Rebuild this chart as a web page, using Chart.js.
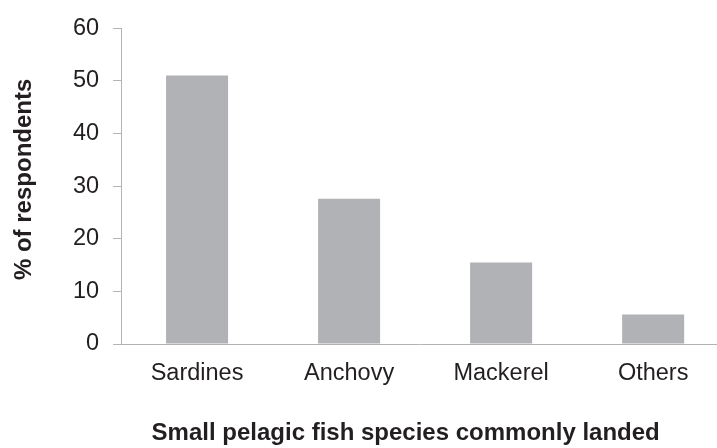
<!DOCTYPE html>
<html>
<head>
<meta charset="utf-8">
<script src="https://cdn.jsdelivr.net/npm/chart.js@4/dist/chart.umd.min.js"></script>
<style>
  html, body { margin: 0; padding: 0; background: #fff; }
  #wrap { width: 717px; height: 448px; }
</style>
</head>
<body>
<div id="wrap"><canvas id="fishChart"></canvas></div>
<script>
const species = ['Sardines', 'Anchovy', 'Mackerel', 'Others'];
const respondents = [51, 27.6, 15.5, 5.6];
const yTicks = [0, 10, 20, 30, 40, 50, 60];

const axisGrey = '#b3b3b3';
const textColor = '#231f20';

const points = species.map((s, i) => ({ x: i, y: respondents[i] }));

new Chart(document.getElementById('fishChart'), {
  type: 'bar',
  data: {
    datasets: [{
      data: points,
      backgroundColor: '#b1b2b5',
      barPercentage: 0.408,
      categoryPercentage: 1
    }]
  },
  options: {
    responsive: true,
    maintainAspectRatio: false,
    animation: false,
    layout: { padding: { top: 8, left: 0, right: 0, bottom: 0 } },
    plugins: {
      legend: { display: false },
      tooltip: { enabled: false }
    },
    scales: {
      x: {
        type: 'linear',
        min: -0.5,
        max: 3.42,
        offset: false,
        afterBuildTicks: scale => { scale.ticks = species.map((s, i) => ({ value: i })); },
        grid: { display: false, drawTicks: false },
        border: { display: true, color: axisGrey, width: 1 },
        ticks: {
          padding: 15,
          color: textColor,
          font: { family: 'Liberation Sans, Arial', size: 23.5 },
          callback: v => species[v]
        },
        title: {
          display: true,
          // trailing spaces nudge the centred title a little left, as in the original
          text: 'Small pelagic fish species commonly landed\u00a0\u00a0\u00a0\u00a0',
          color: textColor,
          font: { family: 'Liberation Sans, Arial', size: 24, weight: 'bold' },
          padding: { top: 17, bottom: 0 }
        }
      },
      y: {
        min: 0,
        max: 60,
        afterBuildTicks: scale => { scale.ticks = yTicks.map(v => ({ value: v })); },
        grid: { drawOnChartArea: false, drawTicks: true, tickLength: 8, color: axisGrey },
        border: { display: true, color: axisGrey, width: 1 },
        ticks: {
          padding: 14,
          color: textColor,
          font: { family: 'Liberation Sans, Arial', size: 23.5 }
        },
        title: {
          display: true,
          text: '\u00a0\u00a0% of respondents',
          color: textColor,
          font: { family: 'Liberation Sans, Arial', size: 24, weight: 'bold' },
          padding: { top: 9.6, bottom: 20.5 }
        }
      }
    }
  }
});
</script>
</body>
</html>
